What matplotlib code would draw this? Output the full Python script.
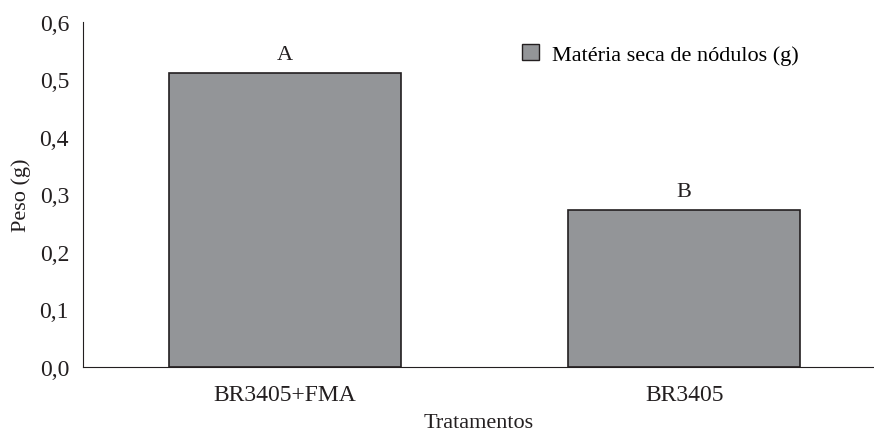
import matplotlib
matplotlib.use("Agg")
import matplotlib.pyplot as plt
from matplotlib.patches import Patch

# dados do gráfico
tratamentos = ["BR3405+FMA", "BR3405"]
peso = [0.511, 0.273]
letras = ["A", "B"]
yticks = [0.0, 0.1, 0.2, 0.3, 0.4, 0.5, 0.6]

plt.rcParams["font.family"] = ["Liberation Serif", "DejaVu Serif"]

fig = plt.figure(figsize=(8.74, 4.35), dpi=100)
ax = fig.add_axes([83 / 874, 1 - 368 / 435, (874 - 83) / 874, 345 / 435])

cor = "#939598"
x = range(len(tratamentos))
ax.bar(x, peso, width=0.58, color=cor, edgecolor="#231f20", linewidth=1.2)

for xi, v, l in zip(x, peso, letras):
    ax.text(xi, v + 0.016, l, ha="center", va="bottom", fontsize=16, color="#231f20")

ax.set_xlim(-0.505, 1.475)
ax.set_ylim(0, 0.6)
ax.set_yticks(yticks)
ax.set_yticklabels([f"{t:.1f}".replace(".", ",") for t in yticks], fontsize=17, color="#231f20")
ax.set_xticks(list(x))
ax.set_xticklabels(tratamentos, fontsize=17, color="#231f20")
ax.tick_params(axis="y", length=0, pad=10)
ax.tick_params(axis="x", length=0, pad=12)

ax.spines["top"].set_visible(False)
ax.spines["right"].set_visible(False)
ax.spines["left"].set_color("#231f20")
ax.spines["bottom"].set_color("#231f20")

ax.set_ylabel("Peso (g)", fontsize=16, color="#231f20", labelpad=6)
ax.set_xlabel("Tratamentos", fontsize=16, color="#231f20", labelpad=6)

ax.legend(handles=[Patch(facecolor=cor, edgecolor="#231f20")],
          labels=["Matéria seca de nódulos (g)"],
          loc="upper right", bbox_to_anchor=(0.93, 0.995), frameon=False,
          fontsize=16, handlelength=0.75, handleheight=0.75, handletextpad=0.6)

fig.savefig("out.png", dpi=100)
